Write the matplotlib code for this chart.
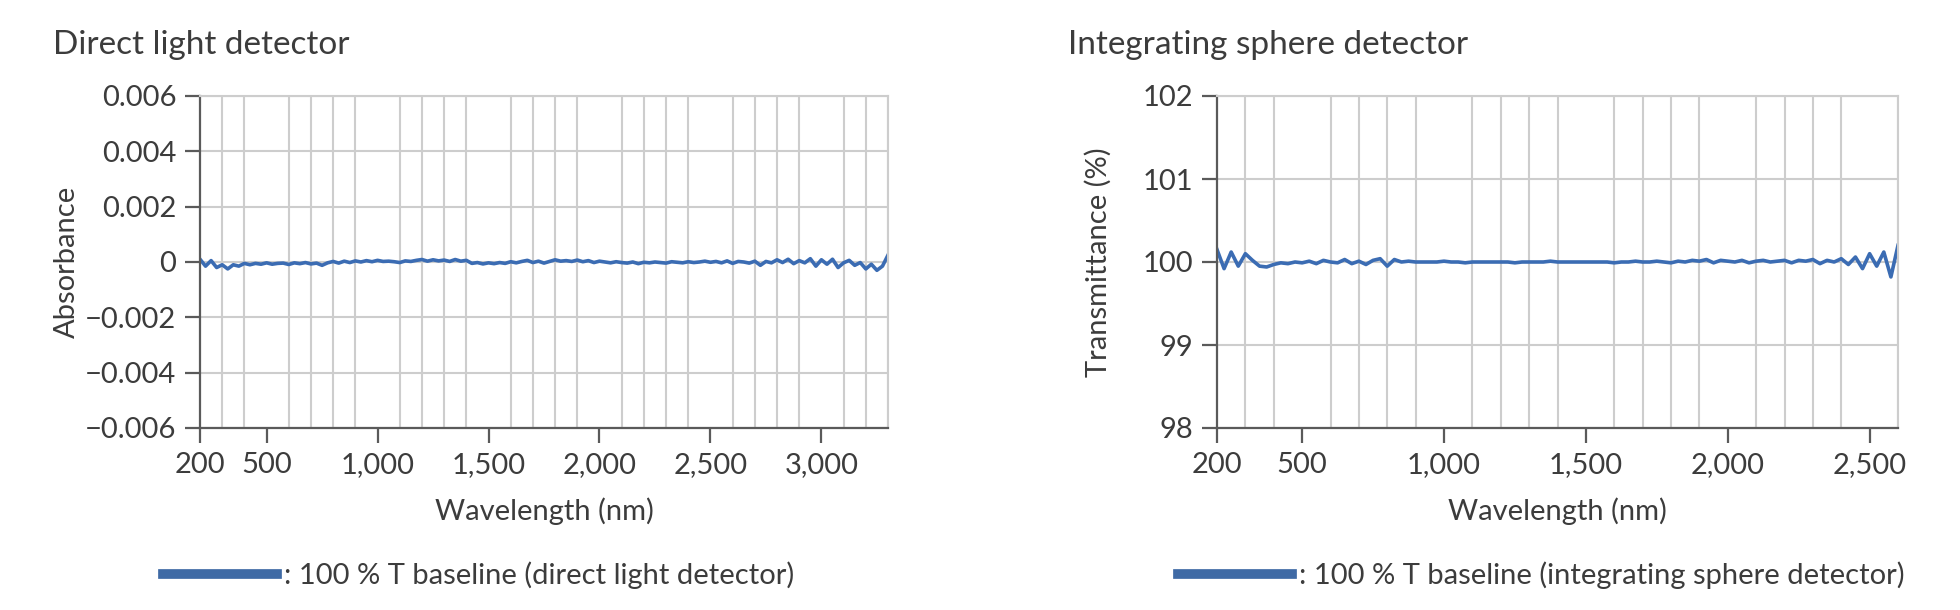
import numpy as np
import matplotlib
matplotlib.use("Agg")
import matplotlib.pyplot as plt
from matplotlib.lines import Line2D
from matplotlib.ticker import FuncFormatter

plt.rcParams['font.family'] = ['Lato', 'DejaVu Sans']

# direct light detector, absorbance (x 1e-4), sampled every 25 nm from 200 to 3300
wl_direct = list(range(200, 3301, 25))
abs_direct = [
    1.0, -1.5, 0.5, -2.0, -1.0, -2.5, -1.0, -1.5, -0.5, -1.0,
    -0.5, -0.8, -0.3, -0.8, -0.5, -0.4, -0.9, -0.3, -0.6, -0.2,
    -0.7, -0.4, -1.2, -0.3, 0.2, -0.4, 0.3, -0.2, 0.4, 0.0,
    0.5, 0.1, 0.6, 0.2, 0.3, 0.1, -0.2, 0.4, 0.2, 0.6,
    0.9, 0.3, 0.8, 0.4, 0.7, 0.2, 0.9, 0.3, 0.6, -0.5,
    -0.2, -0.7, -0.3, -0.6, -0.2, -0.5, 0.1, -0.3, 0.2, 0.6,
    -0.2, 0.3, -0.4, 0.2, 0.8, 0.3, 0.5, 0.2, 0.7, 0.1,
    0.5, -0.2, 0.3, 0.0, -0.3, 0.1, -0.2, -0.4, 0.0, -0.6,
    -0.1, -0.3, 0.0, -0.2, -0.4, 0.1, -0.1, -0.3, 0.1, -0.2,
    0.0, 0.3, -0.1, 0.2, -0.3, 0.4, -0.5, 0.2, 0.0, -0.4,
    0.3, -1.2, 0.2, -0.3, 0.8, -0.2, 1.0, -0.6, 0.5, -0.3,
    1.2, -1.5, 0.8, -0.8, 1.0, -2.0, -0.3, 0.6, -1.2, -0.2,
    -2.5, -0.8, -3.0, -1.5, 2.5,
]

# integrating sphere detector, transmittance offset from 100 % (x 0.01 %), every 25 nm 200..2600
wl_sphere = list(range(200, 2601, 25))
t_sphere = [
    15, -8, 12, -5, 10, 2, -5, -6, -3, -1,
    -2, 0, -1, 1, -2, 2, 0, -1, 3, -2,
    1, -3, 2, 4, -5, 3, 0, 1, 0, 0,
    0, 0, 1, 0, 0, -1, 0, 0, 0, 0,
    0, 0, -1, 0, 0, 0, 0, 1, 0, 0,
    0, 0, 0, 0, 0, 0, -1, 0, 0, 1,
    0, 0, 1, 0, -1, 1, 0, 2, 1, 3,
    -1, 2, 1, 0, 2, -1, 1, 2, 0, 1,
    2, -1, 2, 1, 3, -2, 2, 0, 4, -3,
    6, -8, 10, -5, 12, -18,
    20,
]

titles = ["Direct light detector", "Integrating sphere detector"]
ylabels = ["Absorbance", "Transmittance (%)"]
legend_labels = [": 100 % T baseline (direct light detector)",
                 ": 100 % T baseline (integrating sphere detector)"]
x_major_direct = [200, 500, 1000, 1500, 2000, 2500, 3000]
x_major_sphere = [200, 500, 1000, 1500, 2000, 2500]
y_ticks_direct = [-0.006, -0.004, -0.002, 0, 0.002, 0.004, 0.006]
y_ticks_sphere = [98, 99, 100, 101, 102]

line_col = '#3b6cb3'
grid_col = '#cdcdcd'
text_col = '#3c3c3c'
axis_col = '#5a5a5a'

W, H = 1960, 610
fig = plt.figure(figsize=(W / 100, H / 100), dpi=100)

ax1 = fig.add_axes([200 / W, 1 - 428 / H, 688 / W, 332 / H])
ax2 = fig.add_axes([1217 / W, 1 - 428 / H, 681 / W, 332 / H])

ax1.plot(wl_direct, np.array(abs_direct) * 1e-4, color=line_col, lw=2.6)
ax2.plot(wl_sphere, 100 + np.array(t_sphere) * 0.01, color=line_col, lw=2.6)

ax1.set_xlim(200, 3300)
ax1.set_ylim(-0.006, 0.006)
ax2.set_xlim(200, 2600)
ax2.set_ylim(98, 102)

def yfmt_direct(v, pos):
    if abs(v) < 1e-12:
        return "0"
    s = "%.3f" % abs(v)
    return ("\u2212" + s) if v < 0 else s

for ax, xmaj, yt, xmax in [(ax1, x_major_direct, y_ticks_direct, 3300),
                           (ax2, x_major_sphere, y_ticks_sphere, 2600)]:
    ax.set_xticks(xmaj)
    ax.set_xticks(list(range(200, xmax + 1, 100)), minor=True)
    ax.set_xticklabels(["{:,}".format(v) for v in xmaj])
    ax.set_yticks(yt)
    ax.grid(True, which='minor', axis='x', color=grid_col, lw=1.5)
    ax.grid(True, which='major', axis='y', color=grid_col, lw=1.5)
    ax.set_axisbelow(True)
    for s in ['top', 'right']:
        ax.spines[s].set_color(grid_col)
        ax.spines[s].set_linewidth(1.5)
    for s in ['left', 'bottom']:
        ax.spines[s].set_color(axis_col)
        ax.spines[s].set_linewidth(1.6)
    ax.tick_params(axis='both', which='major', direction='out', length=11,
                   width=1.6, color=axis_col, labelsize=21, labelcolor=text_col, pad=6)
    ax.tick_params(axis='both', which='minor', length=0)

ax1.yaxis.set_major_formatter(FuncFormatter(yfmt_direct))

ax1.set_xlabel("Wavelength (nm)", fontsize=21, color=text_col, labelpad=14)
ax2.set_xlabel("Wavelength (nm)", fontsize=21, color=text_col, labelpad=14)
ax1.set_ylabel(ylabels[0], fontsize=21, color=text_col, labelpad=4)
ax2.set_ylabel(ylabels[1], fontsize=21, color=text_col, labelpad=22)

fig.text(53 / W, 1 - 45 / H, titles[0], fontsize=24, color=text_col, va='center')
fig.text(1068 / W, 1 - 45 / H, titles[1], fontsize=24, color=text_col, va='center')

for lab, x0 in [(legend_labels[0], 163), (legend_labels[1], 1178)]:
    h = Line2D([], [], color='#3f6aa5', lw=7)
    fig.legend([h], [lab], loc='center left', bbox_to_anchor=(x0 / W, 1 - 575 / H),
               frameon=False, fontsize=21, handlelength=3.9, handletextpad=0.25,
               labelcolor=text_col, borderpad=0, borderaxespad=0)

fig.savefig("out.png", dpi=100, facecolor='white')
